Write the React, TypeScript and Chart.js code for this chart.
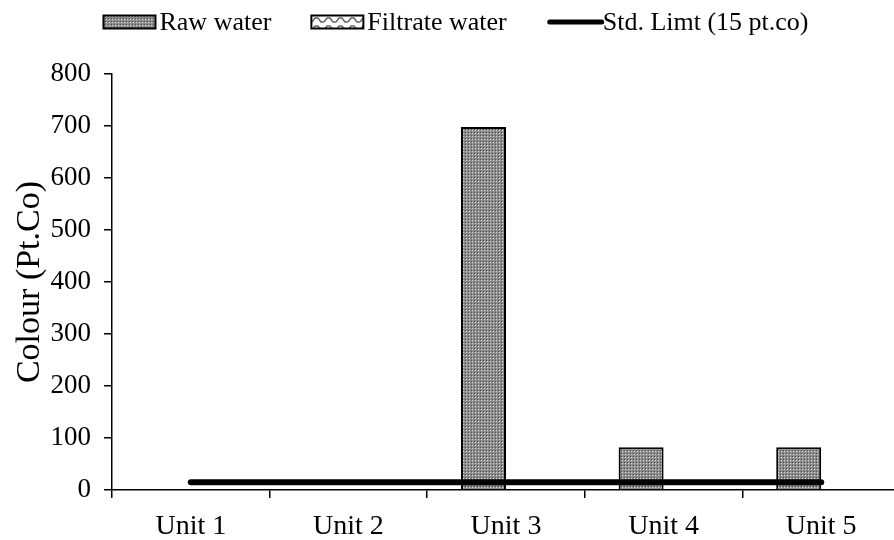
import React, { useEffect, useRef } from "react";
import { Chart, registerables } from "chart.js";

Chart.register(...registerables);

const categories = ["Unit 1", "Unit 2", "Unit 3", "Unit 4", "Unit 5"];
const rawWater = [0, 0, 698, 82, 82];
const filtrateWater = [0, 0, 0, 0, 0];
const stdLimit = [15, 15, 15, 15, 15];
const yTicks = [0, 100, 200, 300, 400, 500, 600, 700, 800];

const FONT = "'Liberation Serif', 'Times New Roman', serif";

function makeRawPattern(): CanvasPattern | string {
  const c = document.createElement("canvas");
  c.width = 3;
  c.height = 3;
  const ctx = c.getContext("2d");
  if (!ctx) return "#999";
  ctx.fillStyle = "#8c8c8c";
  ctx.fillRect(0, 0, 3, 3);
  ctx.fillStyle = "#4a4a4a";
  ctx.fillRect(0, 0, 1, 1);
  ctx.fillStyle = "#d8d8d8";
  ctx.fillRect(1, 1, 1, 1);
  const p = ctx.createPattern(c, "repeat");
  return p || "#999";
}

function makeFiltratePattern(): CanvasPattern | string {
  const c = document.createElement("canvas");
  c.width = 12;
  c.height = 8;
  const ctx = c.getContext("2d");
  if (!ctx) return "#ddd";
  ctx.fillStyle = "#ffffff";
  ctx.fillRect(0, 0, 12, 8);
  ctx.strokeStyle = "#666666";
  ctx.lineWidth = 1.5;
  ctx.beginPath();
  ctx.moveTo(0, 6);
  ctx.lineTo(3, 2);
  ctx.lineTo(6, 2);
  ctx.lineTo(9, 6);
  ctx.lineTo(12, 6);
  ctx.stroke();
  const p = ctx.createPattern(c, "repeat");
  return p || "#ddd";
}

const legendPlugin = {
  id: "topLegend",
  afterDraw(chart: any) {
    const ctx = chart.ctx as CanvasRenderingContext2D;
    const font = `26px ${FONT}`;
    ctx.save();
    ctx.font = font;
    ctx.textBaseline = "middle";
    ctx.textAlign = "left";
    const boxW = 52;
    const boxH = 13;
    const gapText = 4;
    const gapItem = 40;
    const items = chart.data.datasets.map((ds: any) => ({
      ds,
      w: boxW + gapText + ctx.measureText(ds.label).width,
    }));
    const total =
      items.reduce((a: number, it: any) => a + it.w, 0) +
      gapItem * (items.length - 1);
    let x = chart.width / 2 + 6 - total / 2;
    const cy = 22;
    for (const it of items) {
      const ds = it.ds;
      if (ds.type === "line") {
        ctx.strokeStyle = "#000";
        ctx.lineWidth = 5;
        ctx.lineCap = "round";
        ctx.beginPath();
        ctx.moveTo(x + 3, cy);
        ctx.lineTo(x + boxW + 3, cy);
        ctx.stroke();
      } else {
        ctx.fillStyle = ds.backgroundColor;
        ctx.fillRect(x, cy - boxH / 2, boxW, boxH);
        ctx.strokeStyle = "#000";
        ctx.lineWidth = 2;
        ctx.strokeRect(x, cy - boxH / 2, boxW, boxH);
      }
      ctx.fillStyle = "#000";
      ctx.fillText(ds.label, x + boxW + gapText, cy + 1);
      x += it.w + gapItem;
    }
    ctx.restore();
  },
};

export default function App() {
  const ref = useRef<HTMLCanvasElement | null>(null);

  useEffect(() => {
    if (!ref.current) return;
    const rawPat = makeRawPattern();
    const filPat = makeFiltratePattern();
    const chart = new Chart(ref.current, {
      type: "bar",
      data: {
        labels: categories,
        datasets: [
          {
            type: "bar",
            label: "Raw water",
            data: rawWater,
            backgroundColor: rawPat as any,
            borderColor: "#000",
            borderWidth: 2,
            categoryPercentage: 0.571,
            barPercentage: 1,
            order: 2,
          },
          {
            type: "bar",
            label: "Filtrate water",
            data: filtrateWater,
            backgroundColor: filPat as any,
            borderColor: "#000",
            borderWidth: 2,
            categoryPercentage: 0.571,
            barPercentage: 1,
            order: 2,
          },
          {
            type: "line",
            label: "Std. Limt (15 pt.co)",
            data: stdLimit,
            borderColor: "#000",
            backgroundColor: "#000",
            borderWidth: 6,
            borderCapStyle: "round",
            pointRadius: 0,
            order: 1,
          } as any,
        ],
      },
      options: {
        animation: false,
        responsive: true,
        maintainAspectRatio: false,
        layout: { padding: { left: 0, right: 0, top: 74, bottom: 0 } },
        plugins: {
          tooltip: { enabled: false },
          legend: { display: false },
        },
        scales: {
          x: {
            offset: true,
            grid: {
              offset: true,
              drawOnChartArea: false,
              drawTicks: true,
              tickLength: 8,
              color: "#000",
              lineWidth: 1.5,
            },
            border: { color: "#000", width: 1.5 },
            ticks: {
              color: "#000",
              font: { family: FONT, size: 28 },
              padding: 12,
              maxRotation: 0,
            },
            afterFit: (s: any) => {
              s.height = 50;
            },
          },
          y: {
            min: 0,
            max: 800,
            afterBuildTicks: (s: any) => {
              s.ticks = yTicks.map((v) => ({ value: v }));
            },
            grid: {
              drawOnChartArea: false,
              drawTicks: true,
              tickLength: 8,
              color: "#000",
              lineWidth: 1.5,
            },
            border: { color: "#000", width: 1.5 },
            ticks: {
              color: "#000",
              font: { family: FONT, size: 27 },
              padding: 13,
            },
            title: {
              display: true,
              text: "Colour (Pt.Co)",
              color: "#000",
              font: { family: FONT, size: 34 },
              padding: { top: 10, bottom: 0 },
            },
            afterFit: (s: any) => {
              s.width = 112;
            },
          },
        },
      },
      plugins: [legendPlugin],
    });
    return () => chart.destroy();
  }, []);

  return (
    <div
      style={{
        position: "fixed",
        left: 0,
        top: 0,
        width: 900,
        height: 540,
        background: "#fff",
      }}
    >
      <canvas ref={ref} />
    </div>
  );
}
